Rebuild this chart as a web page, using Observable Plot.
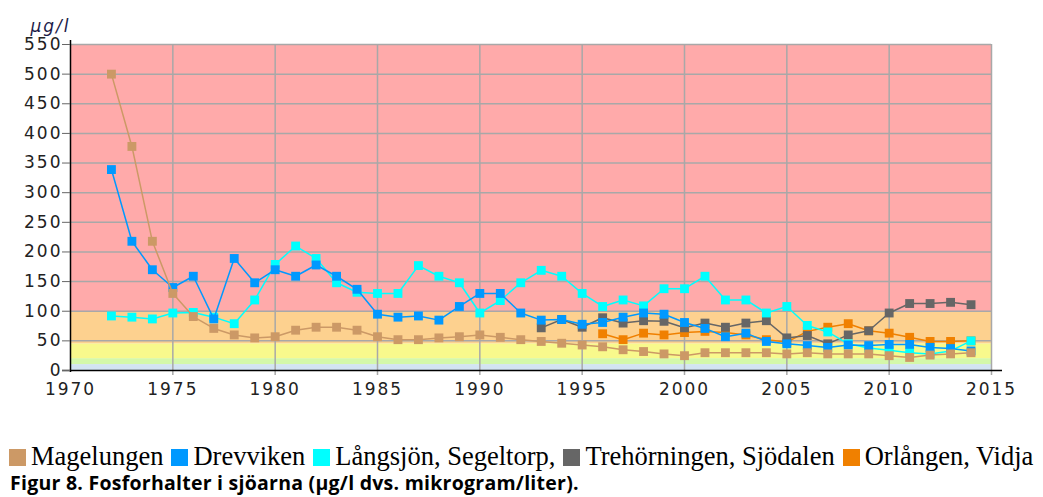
<!DOCTYPE html>
<html><head><meta charset="utf-8">
<script src="https://cdn.jsdelivr.net/npm/d3@7"></script>
<script src="https://cdn.jsdelivr.net/npm/@observablehq/plot@0.6"></script>
<style>
body{margin:0;background:#fff;width:1043px;height:497px;overflow:hidden;position:relative}
#chart{position:absolute;left:0;top:0}
#legend{position:absolute;left:9px;top:442px;font-family:"Liberation Serif","Times New Roman",serif;font-size:26.5px;line-height:29px;white-space:nowrap;color:#000}
#legend .sw{display:inline-block;width:17px;height:17px;margin-right:5px;vertical-align:-1px}
#legend .it{margin-right:8px}
#caption{position:absolute;left:10px;top:471px;font-family:"Open Sans",Lato,sans-serif;font-weight:bold;font-size:19.5px;letter-spacing:0.25px;line-height:23px;white-space:nowrap;color:#000}
</style></head><body>
<div id="chart"></div>
<div id="legend"></div>
<div id="caption">Figur 8. Fosforhalter i sjöarna (µg/l dvs. mikrogram/liter).</div>
<script>
// ---- data ----
const seriesNames = ["Magelungen", "Drevviken", "Långsjön, Segeltorp,", "Trehörningen, Sjödalen", "Orlången, Vidja"];
const seriesColors = ["#CC9966", "#0099FF", "#00FFFF", "#666666", "#F08000"];

const yearsLong = [1972,1973,1974,1975,1976,1977,1978,1979,1980,1981,1982,1983,1984,1985,1986,1987,1988,1989,1990,1991,1992,1993,1994,1995,1996,1997,1998,1999,2000,2001,2002,2003,2004,2005,2006,2007,2008,2009,2010,2011,2012,2013,2014];
const yearsTre = [1993,1994,1995,1996,1997,1998,1999,2000,2001,2002,2003,2004,2005,2006,2007,2008,2009,2010,2011,2012,2013,2014];
const yearsOrl = [1996,1997,1998,1999,2000,2001,2002,2003,2004,2005,2006,2007,2008,2009,2010,2011,2012,2013,2014];

const magelungen = [500,378,218,130,91,71,60,55,57,68,73,73,68,57,52,52,55,57,60,56,52,49,46,43,40,35,32,28,25,30,30,30,30,28,30,28,28,28,25,22,26,28,30];
const drevviken  = [339,218,170,140,159,87,189,148,170,159,178,159,137,95,90,92,85,108,130,130,97,85,86,78,81,90,97,95,81,71,57,63,49,45,42,39,43,42,44,44,39,37,33];
const langsjon   = [92,90,87,97,98,90,79,119,179,210,189,148,132,130,130,177,159,148,97,118,148,169,159,130,108,119,109,138,138,159,119,119,97,108,76,65,45,38,34,30,28,33,50];
const trehorningen = [72,86,73,89,80,84,83,72,80,73,80,84,55,59,45,60,67,97,113,113,115,111];
const orlangen   = [62,52,63,60,64,66,64,60,52,48,66,73,79,67,63,56,49,49,50];

const bandLow  = [0, 10, 20, 45, 98];
const bandHigh = [10, 20, 45, 98, 550];
const bandColors = ["#D3E4F2", "#D4F8AA", "#F8F98C", "#FDD18F", "#FFAAAA"];

const xDomain = [1970, 2015];
const yDomain = [0, 550];
const xTicks = [1970,1975,1980,1985,1990,1995,2000,2005,2010,2015];
const xGridTicks = [1975,1980,1985,1990,1995,2000,2005,2010,2015];
const yTicks = [0,50,100,150,200,250,300,350,400,450,500,550];
const yGridTicks = [50,100,150,200,250,300,350,400,450,500,550];
const unitLabel = "µg/l";

// ---- build tables ----
const seriesYears = [yearsLong, yearsLong, yearsLong, yearsTre, yearsOrl];
const seriesValues = [magelungen, drevviken, langsjon, trehorningen, orlangen];
const tables = seriesNames.map((name, i) => seriesValues[i].map((v, j) => ({series: name, year: seriesYears[i][j], value: v})));
const bands = bandLow.map((lo, i) => ({lo, hi: bandHigh[i], color: bandColors[i]}));

// drawing order bottom -> top
const drawOrder = [4, 3, 2, 1, 0];
const seriesMarks = [];
for (const i of drawOrder) {
  seriesMarks.push(Plot.line(tables[i], {x: "year", y: "value", stroke: seriesColors[i], strokeWidth: 1.5}));
  seriesMarks.push(Plot.dot(tables[i], {x: "year", y: "value", symbol: "square", r: 5, fill: seriesColors[i], stroke: null}));
}

const chart = Plot.plot({
  width: 1043,
  height: 440,
  marginLeft: 70,
  marginRight: 52,
  marginTop: 44,
  marginBottom: 70,
  x: {domain: xDomain},
  y: {domain: yDomain},
  style: {fontFamily: "DejaVu Sans, Verdana, sans-serif", fontSize: "17px", color: "#222", background: "transparent"},
  marks: [
    Plot.rect(bands, {x1: () => xDomain[0], x2: () => xDomain[1], y1: "lo", y2: "hi", fill: "color"}),
    Plot.gridY({ticks: yGridTicks, stroke: "#A8A8A8", strokeOpacity: 1, strokeWidth: 1.5}),
    Plot.gridX({ticks: xGridTicks, stroke: "#A8A8A8", strokeOpacity: 1, strokeWidth: 1.5, insetBottom: -5}),
    ...seriesMarks,
    Plot.ruleX([xDomain[0]], {stroke: "#000", strokeWidth: 1.5, insetTop: -4, insetBottom: -2}),
    Plot.ruleY([yDomain[0]], {stroke: "#000", strokeWidth: 1.5, insetLeft: -8, insetRight: -11}),
    Plot.axisY({ticks: yTicks, tickSize: 8, tickPadding: 0, stroke: "#666", label: null}),
    Plot.axisX({ticks: xTicks, tickSize: 0, tickPadding: 12, tickFormat: d => String(d), label: null}),
    Plot.text([unitLabel], {frameAnchor: "top-left", dx: -20, dy: -25, textAnchor: "middle", fontStyle: "italic", fontSize: 17, fill: "#1c1c4a"})
  ]
});
document.getElementById("chart").appendChild(chart);
d3.select(chart).selectAll('g[aria-label="y-axis tick label"] text, g[aria-label="x-axis tick label"] text').style("letter-spacing", "2px");
d3.select(chart).selectAll('g[aria-label="text"] text').style("letter-spacing", "2px");

// ---- legend ----
const legend = d3.select("#legend");
seriesNames.forEach((name, i) => {
  const it = legend.append("span").attr("class", "it");
  it.append("span").attr("class", "sw").style("background", seriesColors[i]);
  it.append("span").text(name);
});
</script>
</body></html>
